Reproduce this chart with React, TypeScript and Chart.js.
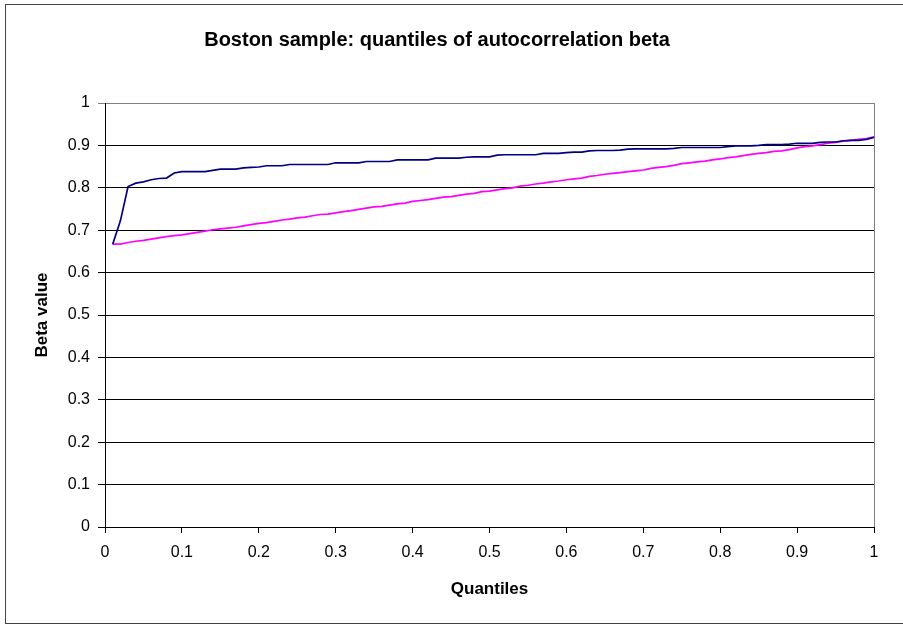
import React, { useEffect, useRef } from "react";
import { Chart, registerables } from "chart.js";

Chart.register(...registerables);

const TITLE = "Boston sample: quantiles of autocorrelation beta";
const X_TITLE = "Quantiles";
const Y_TITLE = "Beta value";

const quantiles = [
  0.01, 0.02, 0.03, 0.04, 0.05, 0.06, 0.07, 0.08, 0.09, 0.1,
  0.11, 0.12, 0.13, 0.14, 0.15, 0.16, 0.17, 0.18, 0.19, 0.2,
  0.21, 0.22, 0.23, 0.24, 0.25, 0.26, 0.27, 0.28, 0.29, 0.3,
  0.31, 0.32, 0.33, 0.34, 0.35, 0.36, 0.37, 0.38, 0.39, 0.4,
  0.41, 0.42, 0.43, 0.44, 0.45, 0.46, 0.47, 0.48, 0.49, 0.5,
  0.51, 0.52, 0.53, 0.54, 0.55, 0.56, 0.57, 0.58, 0.59, 0.6,
  0.61, 0.62, 0.63, 0.64, 0.65, 0.66, 0.67, 0.68, 0.69, 0.7,
  0.71, 0.72, 0.73, 0.74, 0.75, 0.76, 0.77, 0.78, 0.79, 0.8,
  0.81, 0.82, 0.83, 0.84, 0.85, 0.86, 0.87, 0.88, 0.89, 0.9,
  0.91, 0.92, 0.93, 0.94, 0.95, 0.96, 0.97, 0.98, 0.99, 1.0,
];

const navyBeta = [
  0.667, 0.722, 0.803, 0.811, 0.814, 0.819, 0.822, 0.823, 0.835, 0.838,
  0.838, 0.838, 0.838, 0.841, 0.844, 0.844, 0.844, 0.847, 0.848, 0.849,
  0.852, 0.852, 0.852, 0.855, 0.855, 0.855, 0.855, 0.855, 0.855, 0.859,
  0.859, 0.859, 0.859, 0.862, 0.862, 0.862, 0.862, 0.866, 0.866, 0.866,
  0.866, 0.866, 0.87, 0.87, 0.87, 0.87, 0.872, 0.873, 0.873, 0.873,
  0.877, 0.878, 0.878, 0.878, 0.878, 0.878, 0.881, 0.881, 0.881, 0.883,
  0.884, 0.884, 0.887, 0.888, 0.888, 0.888, 0.889, 0.891, 0.892, 0.892,
  0.892, 0.892, 0.892, 0.893, 0.895, 0.895, 0.895, 0.895, 0.895, 0.895,
  0.897, 0.899, 0.899, 0.899, 0.9, 0.902, 0.902, 0.902, 0.903, 0.905,
  0.905, 0.905, 0.907, 0.908, 0.908, 0.911, 0.912, 0.912, 0.914, 0.919,
];

const magentaBeta = [
  0.667, 0.667, 0.671, 0.674, 0.676, 0.679, 0.682, 0.685, 0.687, 0.689,
  0.692, 0.695, 0.698, 0.701, 0.703, 0.705, 0.707, 0.71, 0.713, 0.716,
  0.718, 0.721, 0.724, 0.726, 0.729, 0.731, 0.734, 0.737, 0.738, 0.741,
  0.744, 0.746, 0.749, 0.752, 0.755, 0.756, 0.759, 0.762, 0.764, 0.768,
  0.77, 0.772, 0.775, 0.778, 0.779, 0.782, 0.785, 0.787, 0.791, 0.792,
  0.795, 0.798, 0.8, 0.804, 0.806, 0.809, 0.811, 0.814, 0.816, 0.819,
  0.821, 0.823, 0.827, 0.829, 0.832, 0.834, 0.836, 0.838, 0.84, 0.842,
  0.846, 0.848, 0.85, 0.853, 0.857, 0.859, 0.861, 0.863, 0.866, 0.868,
  0.871, 0.873, 0.876, 0.879, 0.881, 0.883, 0.886, 0.887, 0.89, 0.894,
  0.897, 0.899, 0.902, 0.905, 0.907, 0.91, 0.912, 0.914, 0.916, 0.92,
];

const FONT = "'Liberation Sans', Arial, sans-serif";

const titlePlugin = {
  id: "excelTitle",
  afterDraw(chart: any) {
    const ctx = chart.ctx;
    ctx.save();
    ctx.font = `bold 20px ${FONT}`;
    ctx.fillStyle = "#000";
    ctx.textAlign = "center";
    ctx.textBaseline = "middle";
    ctx.fillText(TITLE, 437, 40);
    ctx.restore();
  },
};

const plotBorderPlugin = {
  id: "plotBorder",
  beforeDatasetsDraw(chart: any) {
    const { ctx, chartArea } = chart;
    ctx.save();
    ctx.strokeStyle = "#808080";
    ctx.lineWidth = 1;
    ctx.beginPath();
    const x = Math.round(chartArea.right) + 0.5;
    ctx.moveTo(x, chartArea.top);
    ctx.lineTo(x, chartArea.bottom);
    ctx.stroke();
    ctx.restore();
  },
};

export default function App() {
  const canvasRef = useRef<HTMLCanvasElement | null>(null);

  useEffect(() => {
    const canvas = canvasRef.current;
    if (!canvas) return;
    const chart = new Chart(canvas, {
      type: "line",
      data: {
        datasets: [
          {
            label: "Series 1",
            data: quantiles.map((q, i) => ({ x: q, y: navyBeta[i] })),
            borderColor: "#000080",
            borderWidth: 1.7,
            pointRadius: 0,
            tension: 0,
            fill: false,
          },
          {
            label: "Series 2",
            data: quantiles.map((q, i) => ({ x: q, y: magentaBeta[i] })),
            borderColor: "#FF00FF",
            borderWidth: 1.7,
            pointRadius: 0,
            tension: 0,
            fill: false,
          },
        ],
      },
      options: {
        responsive: false,
        animation: false,
        layout: { padding: { top: 103, right: 29, left: 0, bottom: 0 } },
        plugins: {
          legend: { display: false },
          title: { display: false },
          tooltip: { enabled: false },
        },
        scales: {
          x: {
            type: "linear",
            min: 0,
            max: 1,
            afterFit: (scale: any) => {
              scale.height = 97;
            },
            ticks: {
              stepSize: 0.1,
              padding: 10,
              color: "#000",
              font: { family: FONT, size: 16 },
              callback: (v: any) => String(Number(Number(v).toFixed(1))),
            },
            grid: {
              drawOnChartArea: false,
              drawTicks: true,
              tickLength: 6,
              color: "#000",
            },
            border: { display: true, color: "#000", width: 1 },
            title: {
              display: true,
              text: X_TITLE,
              color: "#000",
              font: { family: FONT, size: 17, weight: "bold" },
              padding: { top: 0, bottom: 24 },
            },
          },
          y: {
            type: "linear",
            min: 0,
            max: 1,
            afterFit: (scale: any) => {
              scale.width = 105;
            },
            ticks: {
              stepSize: 0.1,
              padding: 8,
              color: "#000",
              font: { family: FONT, size: 16 },
              callback: (v: any) => String(Number(Number(v).toFixed(1))),
            },
            grid: {
              drawTicks: true,
              tickLength: 7,
              color: (c: any) =>
                c.tick && Math.abs(c.tick.value - 1) < 1e-6 ? "#808080" : "#000",
            },
            border: { display: true, color: "#000", width: 1 },
            title: {
              display: true,
              text: Y_TITLE,
              color: "#000",
              font: { family: FONT, size: 17, weight: "bold" },
              padding: { top: 32, bottom: 0 },
            },
          },
        },
      },
      plugins: [titlePlugin, plotBorderPlugin],
    });
    return () => chart.destroy();
  }, []);

  return (
    <div
      style={{
        position: "fixed",
        left: 0,
        top: 0,
        width: 903,
        height: 624,
        overflow: "hidden",
        background: "#fff",
      }}
    >
      <div
        style={{
          position: "absolute",
          left: 5,
          top: 4,
          width: 1000,
          height: 618,
          border: "1px solid #444",
        }}
      />
      <canvas
        ref={canvasRef}
        width={903}
        height={624}
        style={{ position: "absolute", left: 0, top: 0, width: 903, height: 624 }}
      />
    </div>
  );
}
